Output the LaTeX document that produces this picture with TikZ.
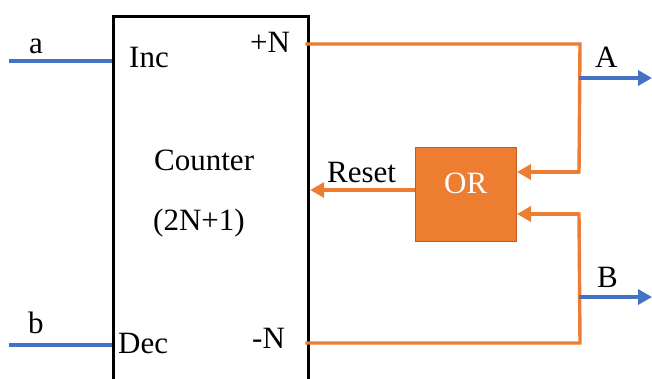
\documentclass[tikz,border=0pt]{standalone}
\usepackage{fontspec}
\setmainfont{Liberation Serif}
\usetikzlibrary{arrows.meta}
\definecolor{wblue}{HTML}{4472C4}
\definecolor{worange}{HTML}{ED7D31}
\definecolor{wdark}{HTML}{C05A1E}
\begin{document}
\begin{tikzpicture}[x=1pt,y=-1pt,
  lbl/.style={anchor=base west,inner sep=0pt,font=\fontsize{31}{36}\selectfont},
  bluew/.style={draw=wblue,line width=3.8pt},
  orw/.style={draw=worange,line width=3.4pt},
  tip/.style={-{Triangle[length=14pt,width=15pt]}}]
\useasboundingbox (0,0) rectangle (652,378);
\clip (0,0) rectangle (652,378);
% counter box
\node[draw,line width=3.2pt,inner sep=0pt,anchor=north west,
      minimum width=195pt,minimum height=380pt] (ctr) at (112,15) {};
% OR box
\node[fill=worange,draw=wdark,line width=1pt,inner sep=0pt,anchor=north west,
      minimum width=101pt,minimum height=94pt] (or) at (415,147) {};
\node[lbl,text=white] (ortxt) at (444,193) {OR};
% labels
\node[lbl] (la) at (29,53) {a};
\node[lbl] (lb) at (28,333) {b};
\node[lbl] (inc) at (129,67) {Inc};
\node[lbl] (dec) at (118,353) {Dec};
\node[lbl] (pn) at (250,52) {+N};
\node[lbl] (mn) at (252,348) {-N};
\node[lbl] (cnt) at (154,170) {Counter};
\node[lbl] (cnt2) at (153,230) {(2N+1)};
\node[lbl] (rst) at (327,182) {Reset};
\node[lbl] (lA) at (595,67) {A};
\node[lbl] (lB) at (597,287) {B};
% coordinates
\coordinate (a0) at (9,61);
\coordinate (b0) at (9,345);
\coordinate (p0) at (307,44);
\coordinate (p1) at (580,44);
\coordinate (m0) at (307,343);
\coordinate (m1) at (580,343);
\coordinate (jA) at (579,78);
\coordinate (jB) at (579,297);
\coordinate (oA) at (652,78);
\coordinate (oB) at (652,297);
\coordinate (in1) at (579,172);
\coordinate (in2) at (579,214);
\coordinate (rs) at (415,190);
% inputs
\draw[bluew] (a0) -- (ctr.west |- a0);
\draw[bluew] (b0) -- (ctr.west |- b0);
% orange wiring
\draw[orw,line cap=rect] (p0) -- (p1) -- (in1);
\draw[orw,tip] (in1) -- (or.east |- in1);
\draw[orw,line cap=rect] (m0) -- (m1) -- (in2);
\draw[orw,tip] (in2) -- (or.east |- in2);
\draw[orw,tip] (rs) -- (ctr.east |- rs);
% outputs
\draw[bluew,tip] (jA) -- (oA);
\draw[bluew,tip] (jB) -- (oB);
\end{tikzpicture}
\end{document}
